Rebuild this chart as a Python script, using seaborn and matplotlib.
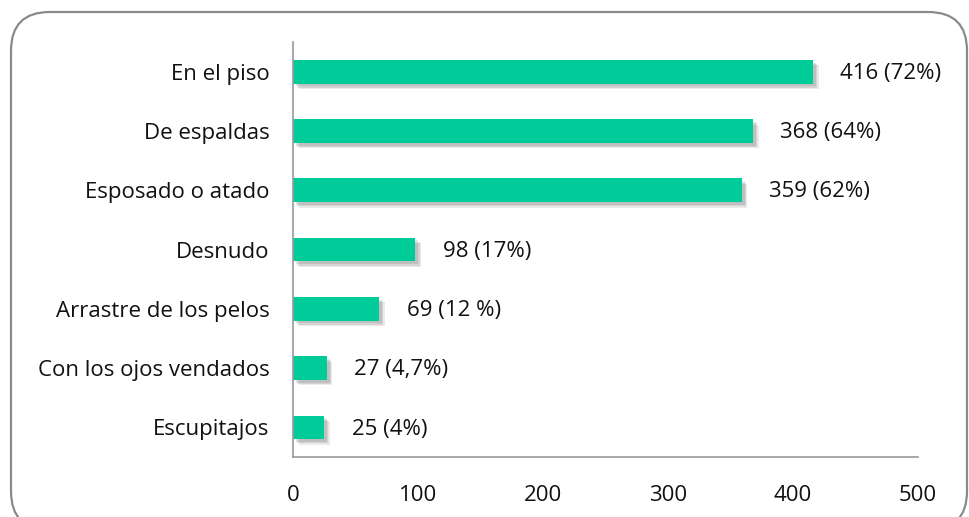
import matplotlib
matplotlib.use('Agg')
import matplotlib.pyplot as plt
import matplotlib.patheffects as pe
from matplotlib.patches import FancyBboxPatch
import seaborn as sns
import pandas as pd

# Data
categorias = ['En el piso', 'De espaldas', 'Esposado o atado', 'Desnudo',
              'Arrastre de los pelos', 'Con los ojos vendados', 'Escupitajos']
valores = [416, 368, 359, 98, 69, 27, 25]
etiquetas = ['416 (72%)', '368 (64%)', '359 (62%)', '98 (17%)',
             '69 (12 %)', '27 (4,7%)', '25 (4%)']

df = pd.DataFrame({'cat': categorias, 'val': valores})

sns.set_style('white')
plt.rcParams['font.family'] = ['Open Sans', 'DejaVu Sans']

fig = plt.figure(figsize=(9.7, 5.17), dpi=100)
ax = fig.add_axes([293 / 970, 1 - 457 / 517, 625 / 970, 415 / 517])

# Rounded frame around the whole chart
frame = FancyBboxPatch((11 / 970, 1 - 530 / 517), 956 / 970, 518 / 517,
                       boxstyle='round,pad=0,rounding_size=0.04',
                       transform=fig.transFigure, fill=False,
                       edgecolor='#8a8a8a', linewidth=1.6, mutation_aspect=970 / 517)
fig.patches.append(frame)

sns.barplot(data=df, x='val', y='cat', color='#00CC99', saturation=1,
            width=0.4, ax=ax, edgecolor='none', linewidth=0)

# soft drop shadow
for bar in ax.patches:
    bar.set_path_effects([pe.SimplePatchShadow(offset=(2, -2), alpha=0.12, shadow_rgbFace='#333333'),
                          pe.SimplePatchShadow(offset=(3, -3), alpha=0.12, shadow_rgbFace='#333333'),
                          pe.SimplePatchShadow(offset=(4, -4), alpha=0.10, shadow_rgbFace='#333333'),
                          pe.Normal()])

for i, (v, t) in enumerate(zip(valores, etiquetas)):
    ax.text(v + 22, i + 0.03, t, va='center', ha='left', fontsize=16, color='#111111')

ax.set_xlim(0, 500)
ax.set_ylim(6.5, -0.5)
ax.set_xticks([0, 100, 200, 300, 400, 500])
ax.set_xlabel('')
ax.set_ylabel('')
ax.tick_params(axis='both', length=0, labelsize=16, labelcolor='#111111')
ax.tick_params(axis='x', pad=20)
ax.tick_params(axis='y', pad=17)

for s in ['top', 'right']:
    ax.spines[s].set_visible(False)
for s in ['left', 'bottom']:
    ax.spines[s].set_color('#999999')
    ax.spines[s].set_linewidth(1.2)

fig.savefig('out.png', dpi=100)
